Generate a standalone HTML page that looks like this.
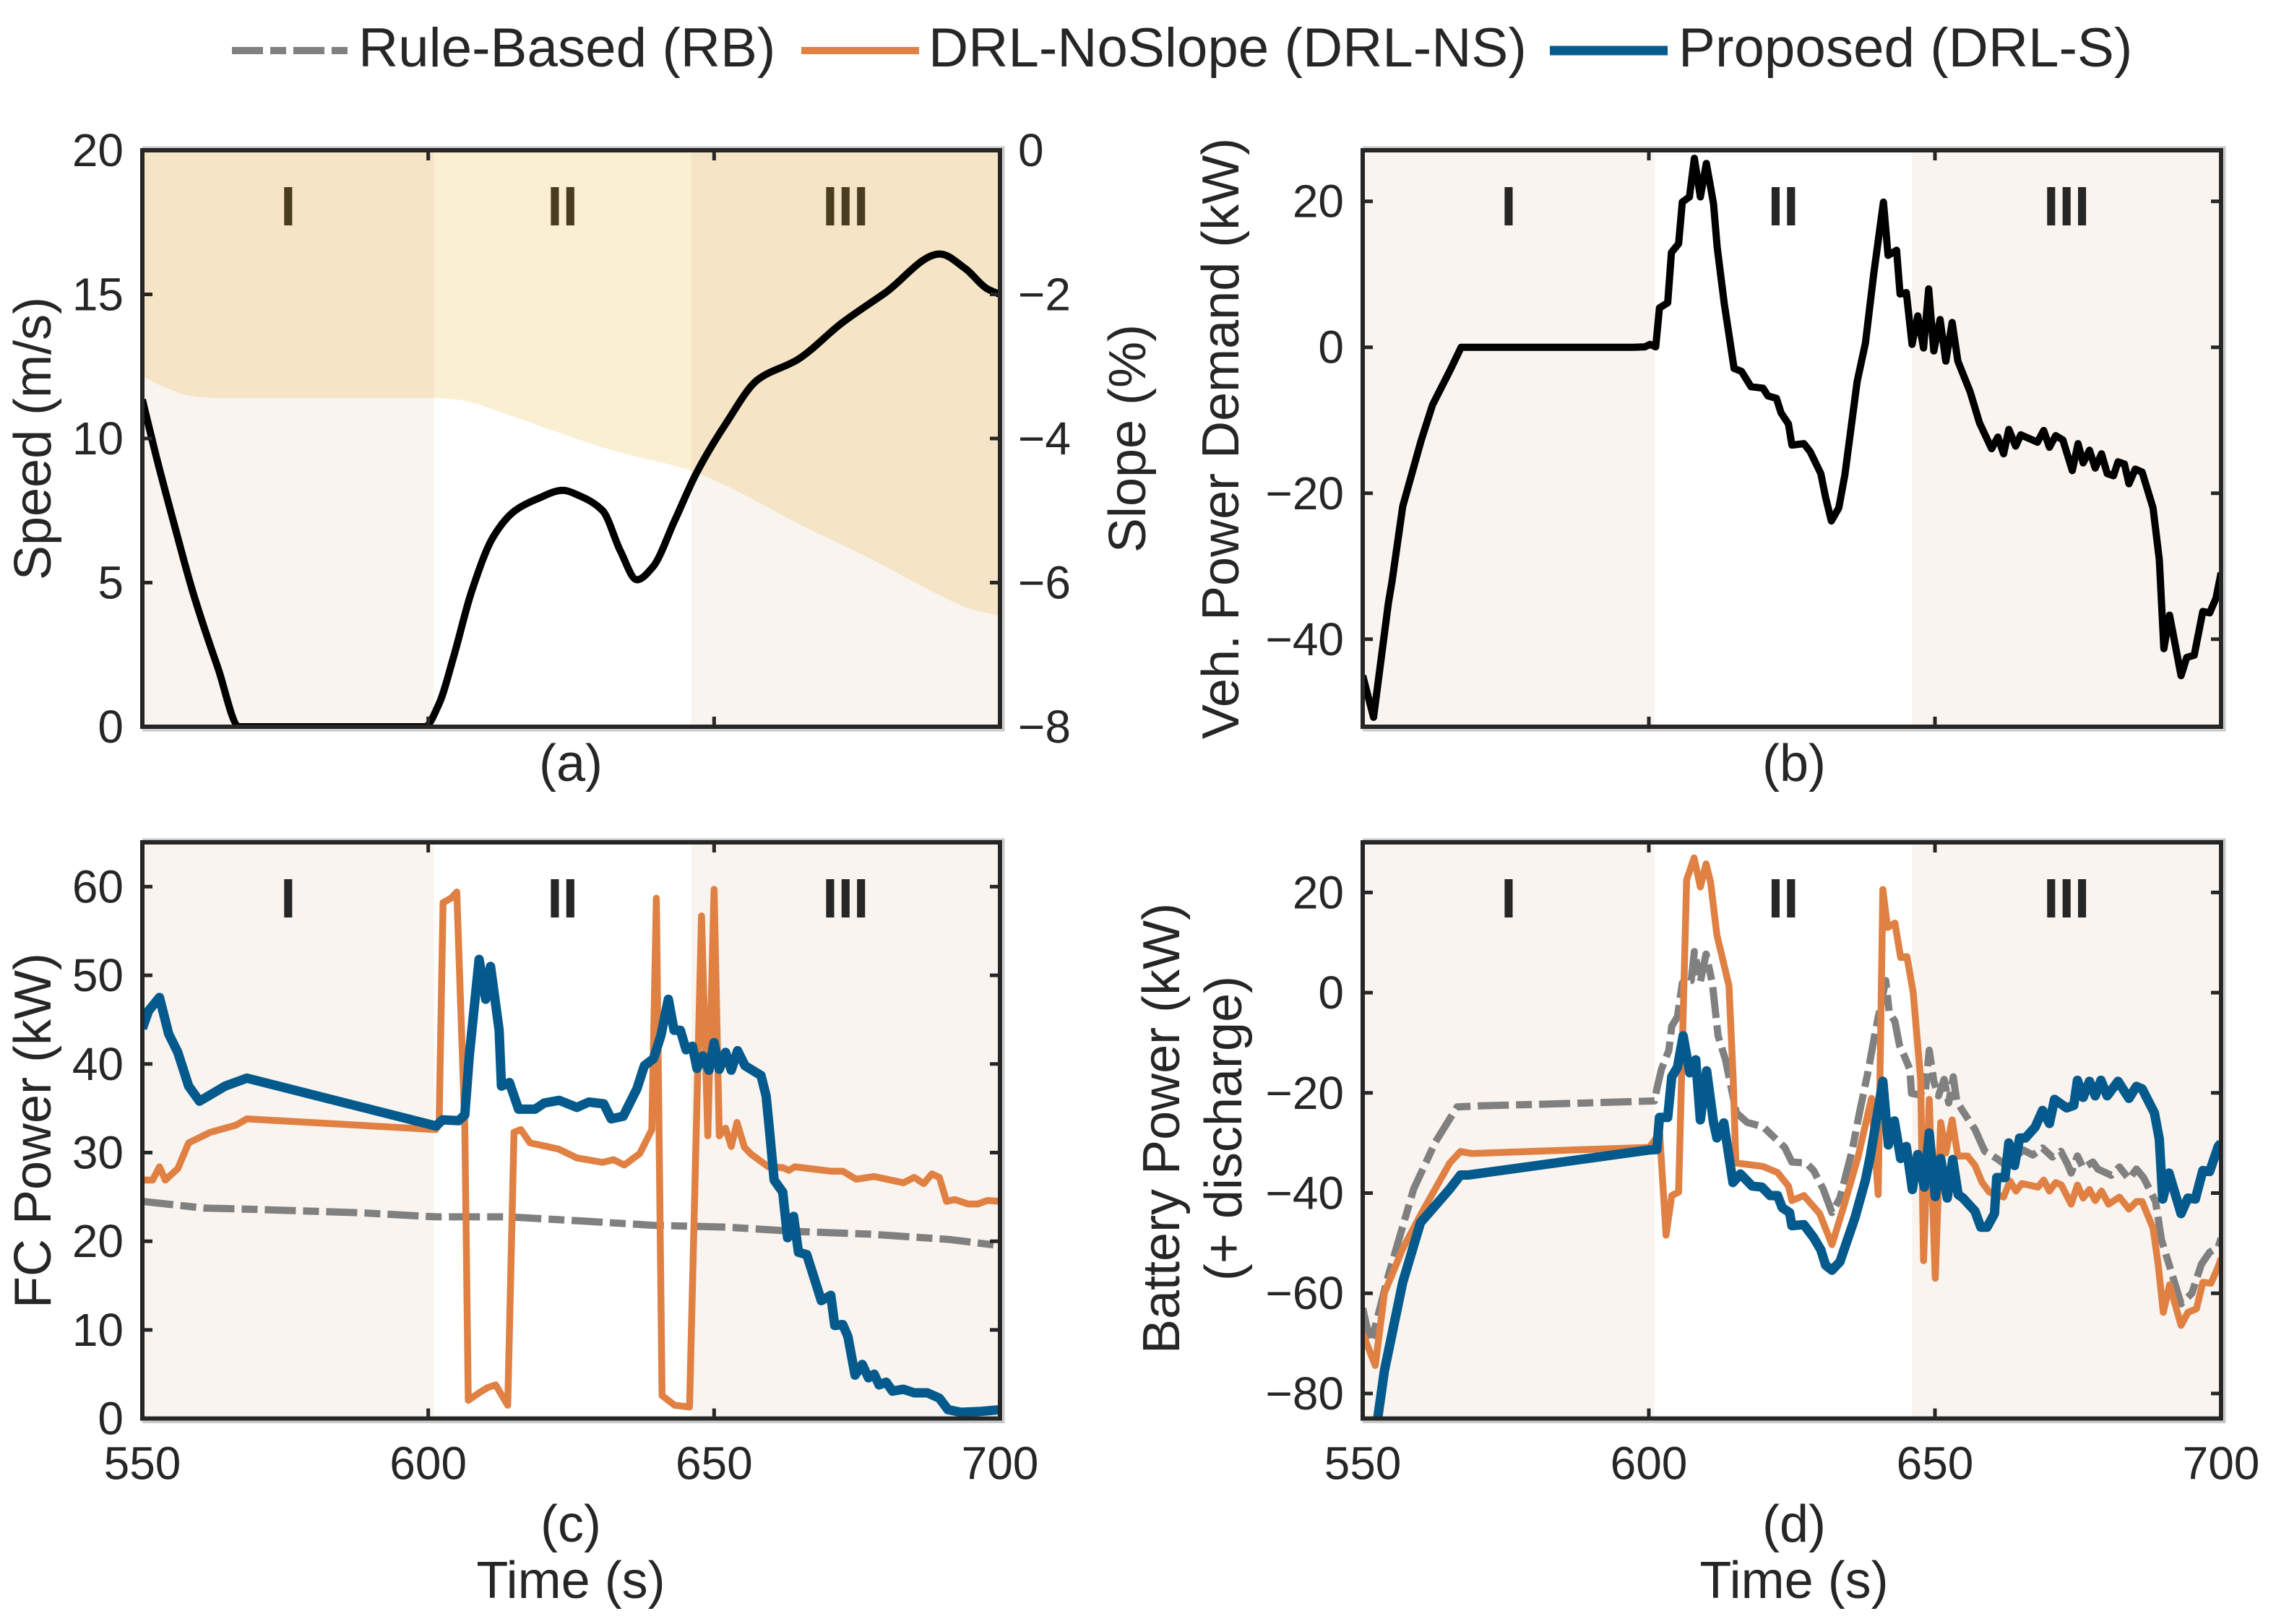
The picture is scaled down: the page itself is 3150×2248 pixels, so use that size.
<!DOCTYPE html>
<html lang="en">
<head>
<meta charset="utf-8">
<title>Speed, slope and power comparison</title>
<style>
html,body{margin:0;padding:0;background:#fff;}
svg{display:block;}
text{font-family:"Liberation Sans",Arial,sans-serif;fill:#262626;}
.tick{font-size:64px;}
.lab{font-size:72px;}
.leg{font-size:76.4px;}
.rom{font-size:77px;font-weight:bold;text-anchor:middle;}
.mid{text-anchor:middle;}
</style>
</head>
<body>
<svg id="chart" xmlns="http://www.w3.org/2000/svg" width="3150" height="2248" viewBox="0 0 3150 2248">
  <rect x="0" y="0" width="3150" height="2248" fill="#fff"/>
  <g id="plots"></g>

  <g>
    <g>
      <line x1="321" y1="70" x2="484" y2="70" stroke="#808080" stroke-width="10" stroke-dasharray="43 10 22 10"/>
      <text class="leg" x="496" y="92">Rule-Based (RB)</text>
    </g>
    <g>
      <line x1="1109" y1="70" x2="1272" y2="70" stroke="#e08043" stroke-width="10"/>
      <text class="leg" x="1285" y="92">DRL-NoSlope (DRL-NS)</text>
    </g>
    <g>
      <line x1="2145" y1="70" x2="2308" y2="70" stroke="#045a8d" stroke-width="13"/>
      <text class="leg" x="2323" y="92">Proposed (DRL-S)</text>
    </g>
  </g>

  <text class="lab mid" transform="translate(70 607) rotate(-90)">Speed (m/s)</text>
  <text class="lab mid" transform="translate(1585 607) rotate(-90)">Slope (%)</text>
  <text class="lab mid" transform="translate(1714 607) rotate(-90)">Veh. Power Demand (kW)</text>
  <text class="lab mid" transform="translate(70 1565) rotate(-90)">FC Power (kW)</text>
  <text class="lab mid" transform="translate(1632 1562) rotate(-90)">Battery Power (kW)</text>
  <text class="lab mid" transform="translate(1718 1562) rotate(-90)">(+ discharge)</text>

  <text class="lab mid" x="790" y="1081">(a)</text>
  <text class="lab mid" x="2483" y="1081">(b)</text>
  <text class="lab mid" x="790" y="2134">(c)</text>
  <text class="lab mid" x="2483" y="2134">(d)</text>
  <text class="lab mid" x="790" y="2212">Time (s)</text>
  <text class="lab mid" x="2483" y="2212">Time (s)</text>
</svg>

<script>
// ---------- data ----------
const xTicks = [550, 600, 650, 700];
const phaseEdges = [550, 601, 646, 700];
const phaseLabels = ['I', 'II', 'III'];
const phaseCentres = [575.5, 623.5, 673];

const speedTicks = [0, 5, 10, 15, 20];
const slopeTicks = [0, -2, -4, -6, -8];
const demandTicks = [-40, -20, 0, 20];
const fcTicks = [0, 10, 20, 30, 40, 50, 60];
const batteryTicks = [-80, -60, -40, -20, 0, 20];

const speedTimes = [550,552.4,555.6,558.8,563.2,567,599.4,601.9,604.4,607.6,
  611.4,615.2,619,623.5,626.6,630.5,633.6,636.5,639.3,643.1,
  646.9,652,657.7,664.7,672.3,679.9,689.5,693.9,697.7,700];
const speedValues = [11.35,9.4,7,4.7,2.05,0,0,0.8,2.4,4.7,
  6.6,7.5,7.9,8.2,8,7.5,6.1,5.1,5.55,7.15,
  8.8,10.5,12.05,12.75,14,15.05,16.4,15.9,15.2,15];

const slopeTimes = [550,554.3,558,563.2,601.3,605,607.6,614,626.6,633,
  645.7,652,664.7,677.4,690.1,695,700];
const slopeValues = [-3.14,-3.3,-3.4,-3.44,-3.44,-3.46,-3.5,-3.67,-4.02,-4.18,
  -4.44,-4.65,-5.18,-5.67,-6.2,-6.37,-6.46];

const demandTimes = [550,551.9,554.5,555.1,557,560.2,562.2,565.3,567.2,597.2,
  599.3,600.2,601.2,601.85,603.3,603.95,605.2,605.85,607.1,607.95,
  609,610.05,611.3,611.95,613.2,614.9,616.2,617.85,619.95,620.8,
  622.3,623.1,624.4,625,627.1,628.2,630.05,630.9,631.9,633.2,
  634.25,636.4,637.85,639.3,641,641.8,643.3,643.9,645,646,
  647,648,648.9,649.8,650.9,651.9,653,654,656.15,657.8,
  659.9,661,662,662.9,664.1,665,667.9,669,670,671.1,
  672.35,674,675,675.9,677,678,679.1,680.1,681.2,682,
  683.1,683.9,685,686.2,688.1,689.2,690,691,693,694,
  695.3,696.8,698,699.1,700];
const demandValues = [-45,-50.7,-35,-32.2,-21.8,-12.8,-7.9,-3.1,0,0,
  0.06,0.4,0.06,5.4,6.1,13,14.2,19.9,20.6,25.9,
  20.6,25.2,19.7,13.7,5.9,-2.9,-3.3,-5.4,-5.6,-6.65,
  -7,-9,-10.5,-13.4,-13.2,-14.3,-17.3,-20.6,-23.8,-22,
  -17.5,-4.7,0.6,10.1,19.9,12.6,13.3,7.3,7.5,0.4,
  4.3,-0.1,8,-0.5,3.8,-1.9,3.4,-1.9,-6.1,-10.4,
  -13.9,-12.3,-14.6,-11.25,-13.55,-12,-13,-11.4,-13.7,-12.1,
  -12.7,-16.9,-13.2,-15.85,-14.1,-16.55,-14.6,-17.3,-17.6,-15.7,
  -16,-18.7,-16.7,-17.1,-22,-29.1,-41.3,-36.7,-45,-42.5,
  -42.2,-36.2,-36.4,-34.4,-30.9];

const fcRbTimes = [550,560.7,569.5,588.6,601.3,614,626.6,639.3,652,664.7,677.4,691.1,700];
const fcRbValues = [24.5,23.75,23.6,23.2,22.75,22.75,22.3,21.8,21.6,21.1,20.8,20.2,19.5];

const fcNsTimes = [550,551.8,553,554,556.2,558.1,561.9,566.4,568.3,601.3,
  601.9,602.6,604,605,606.4,607,608.9,610.4,611.8,613.9,
  615,616.2,617.8,622.8,626,630.5,632.4,634.3,637,639.1,
  639.9,640.9,643.1,645.7,647.8,648.9,650,650.9,652,653,
  654,655.3,656.5,659.5,662,663.1,664.1,670.4,672.5,674.85,
  678,683.1,685,686.65,688.1,689.4,690.65,692.1,694.45,696.1,
  697.8,700];
const fcNsValues = [26.9,26.9,28.4,26.9,28.2,31.1,32.3,33.1,33.8,32.6,
  33.2,58.2,58.7,59.4,32.9,2.05,2.9,3.5,3.8,1.5,
  32.3,32.6,31.1,30.4,29.4,28.9,29.2,28.6,29.9,32.6,
  58.7,2.6,1.5,1.3,56.7,31.9,59.7,31.9,32.75,30.7,
  33.4,30.6,29.8,28.4,28.3,28,28.4,27.9,27.9,27,
  27.3,26.6,27.2,26.5,27.6,27.2,24.5,24.7,24.2,24.2,
  24.6,24.5];

const fcSTimes = [550,551.1,553,554.6,556.2,558.1,560,564.5,568.3,601.4,
  602.5,605.3,606.4,607.2,608.9,610.05,610.9,612.4,612.8,614.2,
  615.8,618.7,620.3,622.9,626,628.1,630.7,632,634.1,636.5,
  637.8,639.4,640.7,642,643,644.1,645.1,646.2,647,648,
  649.1,650,650.9,652,653,654.1,655.4,658.2,659.1,659.7,
  660.5,662,662.85,663.9,664.75,666.2,668.75,670.4,671.1,672.5,
  673.4,674.65,675.9,677,678,678.85,680.1,681.2,683.1,685,
  687.3,689.4,690.9,693.2,696.55,700];
const fcSValues = [44,46,47.5,43.4,41.3,37.5,35.8,37.5,38.4,33,
  33.7,33.6,34.25,41,51.8,47.3,51,43.8,37.5,37.9,
  34.9,34.9,35.6,35.9,35.1,35.7,35.5,33.8,34.1,37.2,
  39.8,40.6,43.2,47.3,43.8,43.8,41.6,42,39.5,40.9,
  39.3,42.4,39.4,41.3,39.3,41.5,39.8,38.7,36.4,32.4,
  26.9,25.55,20.4,22.8,18.75,18.5,13.3,13.9,10.5,10.6,
  9.25,4.9,6.1,4.6,5,3.8,4.1,3.1,3.3,2.9,
  2.9,2.3,1,0.7,0.8,1];

const batRbTimes = [550,550.6,551.5,554.4,558.9,562.7,566.5,570.3,586.8,601,
  601.4,602.2,603.5,604,605,605.85,607.4,607.95,609,610,
  611.1,612.1,613.4,615.3,617.2,620,623.75,625,627.5,628.8,
  630.5,632,633.4,635.5,636.8,638.3,639.6,641.4,642,643,
  643.8,644.6,645.6,645.9,648.25,649,649.8,650.6,651.6,652.4,
  653.2,653.8,654.9,657,658.7,660.8,662.45,665.4,667.1,668.8,
  670.5,672,673.2,673.8,674.9,675.9,677.6,678.45,680.8,682.25,
  683.9,685.2,686.45,688.55,689.6,690.9,693,694.9,696.55,698,
  699.5,700];
const batRbValues = [-63,-66.1,-69.7,-56.8,-39.2,-29.8,-22.8,-22.6,-22.1,-21.6,
  -19.2,-15.3,-11.5,-6.7,-4.8,1.9,2.4,8.2,2.2,7.7,
  1.9,-8.6,-13.4,-24,-25.9,-26.8,-30.9,-33.8,-34,-35.5,
  -39.3,-43.9,-41,-31.6,-24,-15.8,-7.7,2.4,-3.8,-5.8,
  -10.5,-12.5,-15.3,-20.1,-20.6,-11.5,-17.7,-20.6,-17.3,-22,
  -16.8,-21.6,-23.7,-27.3,-31.65,-33.1,-34.5,-31.4,-32.4,-31,
  -32.8,-31.65,-34.3,-36,-32.6,-35,-33.8,-35.2,-36.45,-34.8,
  -37.2,-35.2,-36.9,-41.7,-49.4,-54.2,-62.1,-60,-54.2,-51.8,
  -50.8,-49];

const batNsTimes = [550,552.2,553.8,557,560.1,565.2,567.1,569,586.8,600.1,
  601.9,603,604,605.2,606.6,607.9,609,610,610.8,611.9,
  614,614.75,615.2,617.4,620,622.5,624.4,625,627.1,629.85,
  632,634.05,636.6,638.9,640.07,640.9,641.7,643,644,645.1,
  646.2,647.5,648,649,650.05,651,651.9,653,654,655.7,
  657,658.25,659.5,662,663.1,664.15,665.2,668,669,670,
  671.1,672.1,673.8,674.9,675.9,677,678,679.1,680.35,682.25,
  683.9,685.2,686.2,688.1,689,689.9,691,693,694.2,695.7,
  696.8,698.25,699.5,700];
const batNsValues = [-68,-74.4,-59.9,-51.1,-44.4,-34,-31.7,-32.1,-31.4,-30.9,
  -28,-48.4,-40.5,-39.8,22.5,26.9,21.1,25.7,22,11.5,
  1.4,-17.3,-34,-34.3,-34.7,-35.9,-38.6,-41.5,-40.5,-44.1,
  -50.3,-42.7,-32.6,-21.1,-40.3,20.6,13,13.9,7,7.2,
  0,-17.3,-53.5,-21.3,-57,-25.9,-32,-25.4,-32.6,-32.6,
  -34.5,-37.9,-39.8,-40.8,-37.6,-39.6,-38.1,-38.8,-37.4,-39.6,
  -37.9,-38.4,-42.2,-38.4,-41,-39.3,-41.5,-39.6,-42.2,-40.8,
  -43.2,-41.7,-41.7,-47,-54.2,-63.8,-58.3,-66.4,-63.8,-63.1,
  -57.8,-58,-54.7,-53];

const batSTimes = [552,553.8,557,560.1,565.2,567.1,568.4,600.1,601.4,601.85,
  603.3,604,605,606,607.15,608.2,609,610.1,611.3,611.9,
  613.1,614.7,616,618.05,619.75,621.2,622.5,623.3,624.6,625,
  627.1,628.8,630.05,630.9,632,633.4,636,637.85,638.7,640.9,
  641.85,642.9,644,645,646.05,647,648.15,649,650.05,651,
  652.15,653.1,654.05,654.9,657,658,659.1,660.4,660.8,662.25,
  662.9,663.9,664.8,665.8,667.5,668.8,670,670.9,673,674.25,
  674.9,675.9,677,678,679,680.1,682,683.9,685.2,686.2,
  688.35,689.2,689.8,690.9,693,694.2,695.5,696.8,698,699.5,
  700];
const batSValues = [-90,-75.4,-57.8,-45.9,-39.2,-36.4,-36.4,-31.4,-31.3,-24.9,
  -24.9,-16.8,-14.9,-8.6,-16,-13.4,-25.4,-15.6,-25.9,-29,
  -26,-37.9,-36.2,-38.6,-38.8,-40.5,-40.5,-42.9,-43.9,-46.5,
  -46.3,-48.9,-51.3,-54.4,-55.4,-53.7,-45,-37.4,-32.6,-17.7,
  -30.4,-25.6,-33.1,-30.7,-39.3,-32.3,-38.8,-28,-40.7,-33.1,
  -41,-33.3,-40.3,-41,-43.6,-46.8,-46.8,-44.1,-36.9,-36.9,
  -30,-34.5,-29,-29,-26.85,-23.5,-26.1,-21.3,-23,-22.5,
  -17.5,-20.9,-17.7,-20.6,-17.5,-20.6,-17.7,-21.1,-18.7,-19.2,
  -24,-29.25,-41.2,-36,-44.1,-41,-41.2,-35.5,-35.7,-30.7,
  -30];

// ---------- drawing ----------
const NS = 'http://www.w3.org/2000/svg';
const root = document.getElementById('plots');
const defs = document.createElementNS(NS, 'defs');
root.appendChild(defs);

function linear(d0, d1, r0, r1) {
  return function (v) { return r0 + (v - d0) * (r1 - r0) / (d1 - d0); };
}
function svgEl(tag, parent) {
  const el = document.createElementNS(NS, tag);
  parent.appendChild(el);
  return el;
}
function setGeom(el, geom) {
  Object.keys(geom).forEach(function (k) { el.setAttribute(k, geom[k]); });
}
function pathFrom(times, values, sx, sy) {
  return times.map(function (t, i) {
    return (i ? 'L' : 'M') + sx(t).toFixed(1) + ' ' + sy(values[i]).toFixed(1);
  }).join('');
}
// monotone cubic through the data, for the smooth speed and slope profiles
function smoothFrom(times, values, sx, sy) {
  const xs = times.map(sx);
  const ys = values.map(sy);
  const n = xs.length;
  const d = [];
  for (let i = 0; i < n - 1; i++) d.push((ys[i + 1] - ys[i]) / (xs[i + 1] - xs[i]));
  const m = [d[0]];
  for (let i = 1; i < n - 1; i++) {
    m.push(d[i - 1] * d[i] <= 0 ? 0 : 2 * d[i - 1] * d[i] / (d[i - 1] + d[i]));
  }
  m.push(d[n - 2]);
  let out = 'M' + xs[0].toFixed(1) + ' ' + ys[0].toFixed(1);
  for (let i = 0; i < n - 1; i++) {
    const h = (xs[i + 1] - xs[i]) / 3;
    out += 'C' + (xs[i] + h).toFixed(1) + ' ' + (ys[i] + m[i] * h).toFixed(1) + ' ' +
      (xs[i + 1] - h).toFixed(1) + ' ' + (ys[i + 1] - m[i + 1] * h).toFixed(1) + ' ' +
      xs[i + 1].toFixed(1) + ' ' + ys[i + 1].toFixed(1);
  }
  return out;
}
function fmt(v) { return String(v).replace('-', '\u2212'); }

function makePanel(name, box, yMin, yMax) {
  const g = svgEl('g', root);
  
  
  const sx = linear(550, 700, box.x0, box.x1);
  const sy = linear(yMin, yMax, box.y1, box.y0);
  const clip = svgEl('clipPath', defs);
  clip.setAttribute('id', 'clip-' + name);
  setGeom(svgEl('rect', clip), { x: box.x0, y: box.y0, width: box.x1 - box.x0, height: box.y1 - box.y0 });

  const marks = svgEl('g', g);
  marks.setAttribute('clip-path', 'url(#clip-' + name + ')');
  
  

  const bg = svgEl('rect', marks);
  
  
  setGeom(bg, { x: box.x0, y: box.y0, width: box.x1 - box.x0, height: box.y1 - box.y0, fill: '#fff' });

  [0, 2].forEach(function (i) {
    const band = svgEl('rect', marks);
    
    
    setGeom(band, {
      x: sx(phaseEdges[i]), y: box.y0,
      width: sx(phaseEdges[i + 1]) - sx(phaseEdges[i]),
      height: box.y1 - box.y0, fill: '#f9f4ef'
    });
  });
  return { g: g, sx: sx, sy: sy, box: box, name: name, marks: marks };
}

function addLine(panel, seriesName, times, values, color, width, dash, smooth) {
  const p = svgEl('path', panel.marks);
  
  
  setGeom(p, {
    d: (smooth ? smoothFrom : pathFrom)(times, values, panel.sx, panel.sy),
    fill: 'none', stroke: color, 'stroke-width': width, 'stroke-linejoin': 'round'
  });
  if (dash) p.setAttribute('stroke-dasharray', dash);
  return p;
}

function addPhaseLabels(panel, color) {
  phaseLabels.forEach(function (label, i) {
    const t = svgEl('text', panel.g);
    
    
    t.setAttribute('class', 'rom');
    setGeom(t, { x: panel.sx(phaseCentres[i]), y: panel.box.y0 + 104 });
    t.style.fill = color;
    t.textContent = label;
  });
}

function addFrame(panel, yTicks, showXLabels, rightScale, rightTicks) {
  const b = panel.box;
  const halo = svgEl('path', panel.g);
  
  
  setGeom(halo, {
    d: 'M' + b.x0 + ' ' + (b.y0 - 4) + 'H' + (b.x1 + 5) + 'V' + (b.y1 + 5) + 'H' + b.x0,
    fill: 'none', stroke: '#c8c8c8', 'stroke-width': 3
  });
  const tickLen = 14;
  xTicks.slice(1, 3).forEach(function (v) {
    [[b.y0, b.y0 + tickLen], [b.y1, b.y1 - tickLen]].forEach(function (pair) {
      const l = svgEl('line', panel.g);
      
      
      setGeom(l, { x1: panel.sx(v), x2: panel.sx(v), y1: pair[0], y2: pair[1], stroke: '#262626', 'stroke-width': 5 });
    });
  });
  yTicks.forEach(function (v) {
    const y = panel.sy(v);
    const l = svgEl('line', panel.g);
    
    
    setGeom(l, { x1: b.x0, x2: b.x0 + tickLen, y1: y, y2: y, stroke: '#262626', 'stroke-width': 5 });
    if (!rightScale) {
      const r = svgEl('line', panel.g);
      
      
      setGeom(r, { x1: b.x1, x2: b.x1 - tickLen, y1: y, y2: y, stroke: '#262626', 'stroke-width': 5 });
    }
    const t = svgEl('text', panel.g);
    
    
    t.setAttribute('class', 'tick');
    setGeom(t, { x: b.x0 - 26, y: y + 22, 'text-anchor': 'end' });
    t.textContent = fmt(v);
  });
  if (rightScale) {
    rightTicks.forEach(function (v) {
      const y = rightScale(v);
      const r = svgEl('line', panel.g);
      
      
      setGeom(r, { x1: b.x1, x2: b.x1 - tickLen, y1: y, y2: y, stroke: '#262626', 'stroke-width': 5 });
      const t = svgEl('text', panel.g);
      
      
      t.setAttribute('class', 'tick');
      setGeom(t, { x: b.x1 + 25, y: y + 22 });
      t.textContent = fmt(v);
    });
  }
  if (showXLabels) {
    xTicks.forEach(function (v) {
      const t = svgEl('text', panel.g);
      
      
      t.setAttribute('class', 'tick mid');
      setGeom(t, { x: panel.sx(v), y: b.y1 + 84 });
      t.textContent = fmt(v);
    });
  }
  const frame = svgEl('rect', panel.g);
  
  
  setGeom(frame, { x: b.x0, y: b.y0, width: b.x1 - b.x0, height: b.y1 - b.y0, fill: 'none', stroke: '#262626', 'stroke-width': 6 });
}

const boxA = { x0: 197, x1: 1384, y0: 208, y1: 1006 };
const boxB = { x0: 1886, x1: 3074, y0: 208, y1: 1006 };
const boxC = { x0: 197, x1: 1384, y0: 1166, y1: 1963.6 };
const boxD = { x0: 1886, x1: 3074, y0: 1166, y1: 1963.6 };

// (a) speed with slope overlay
const panelA = makePanel('a', boxA, 0, 20);
addLine(panelA, 'speed', speedTimes, speedValues, '#000', 10, null, true);
const slopeY = linear(-8, 0, boxA.y1, boxA.y0);
const overlay = svgEl('path', panelA.marks);


setGeom(overlay, {
  d: 'M' + panelA.sx(550) + ' ' + boxA.y0 +
     smoothFrom(slopeTimes, slopeValues, panelA.sx, slopeY).replace('M', 'L') +
     'L' + panelA.sx(700) + ' ' + boxA.y0 + 'Z',
  fill: '#fbefd2'
});
overlay.style.mixBlendMode = 'multiply';
addPhaseLabels(panelA, '#4a3c1e');
addFrame(panelA, speedTicks, false, slopeY, slopeTicks);

// (b) vehicle power demand
const panelB = makePanel('b', boxB, -52, 27);
addLine(panelB, 'demand', demandTimes, demandValues, '#000', 10);
addPhaseLabels(panelB, '#262626');
addFrame(panelB, demandTicks, false);

// (c) fuel-cell power
const panelC = makePanel('c', boxC, 0, 65);
addLine(panelC, 'rb', fcRbTimes, fcRbValues, '#808080', 10, '43 10 22 10');
addLine(panelC, 'drl-ns', fcNsTimes, fcNsValues, '#e08043', 9.5);
addLine(panelC, 'drl-s', fcSTimes, fcSValues, '#045a8d', 13);
addPhaseLabels(panelC, '#262626');
addFrame(panelC, fcTicks, true);

// (d) battery power
const panelD = makePanel('d', boxD, -85, 30);
addLine(panelD, 'rb', batRbTimes, batRbValues, '#808080', 10, '43 10 22 10');
addLine(panelD, 'drl-ns', batNsTimes, batNsValues, '#e08043', 9.5);
addLine(panelD, 'drl-s', batSTimes, batSValues, '#045a8d', 13);
addPhaseLabels(panelD, '#262626');
addFrame(panelD, batteryTicks, true);
</script>
</body>
</html>
